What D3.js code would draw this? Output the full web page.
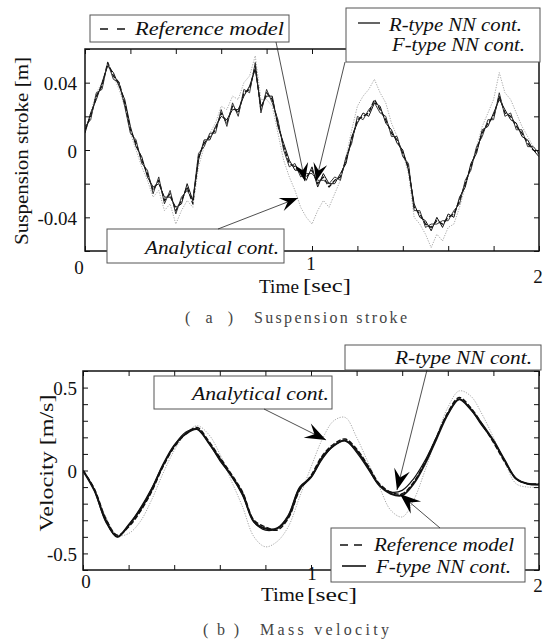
<!DOCTYPE html>
<html><head><meta charset="utf-8">
<script src="https://cdn.jsdelivr.net/npm/d3@7"></script>
<style>body{margin:0;background:#fff}svg{display:block}</style>
</head><body>
<svg id="c" width="544" height="643"></svg>
<script>
// ---------- DATA ----------
// (a) Suspension stroke [m], sampled every 0.025 s from 0 to 2 s
const timeTop = d3.range(81).map(i => i * 0.025);
const refTop = [
  0.012, 0.020, 0.032, 0.038, 0.052, 0.044, 0.040, 0.028, 0.012, 0.004,
  -0.006, -0.014, -0.024, -0.018, -0.030, -0.026, -0.036, -0.030, -0.022, -0.032,
  -0.004, 0.004, 0.008, 0.012, 0.022, 0.016, 0.026, 0.022, 0.034, 0.036,
  0.050, 0.024, 0.034, 0.030, 0.016, 0.002, -0.008, -0.010, -0.014, -0.016,
  -0.012, -0.020, -0.016, -0.022, -0.018, -0.016, -0.006, 0.006, 0.018, 0.020,
  0.022, 0.030, 0.024, 0.018, 0.010, 0.006, -0.002, -0.010, -0.034, -0.038,
  -0.044, -0.046, -0.042, -0.044, -0.040, -0.038, -0.030, -0.020, -0.010, 0.000,
  0.010, 0.016, 0.020, 0.032, 0.022, 0.020, 0.014, 0.010, 0.004, 0.000,
  -0.002];
const rTop = [
  0.010, 0.022, 0.030, 0.040, 0.050, 0.046, 0.038, 0.030, 0.014, 0.002,
  -0.004, -0.016, -0.022, -0.020, -0.028, -0.028, -0.034, -0.032, -0.020, -0.030,
  -0.006, 0.006, 0.006, 0.014, 0.020, 0.018, 0.024, 0.024, 0.032, 0.038,
  0.048, 0.026, 0.032, 0.032, 0.014, 0.004, -0.006, -0.012, -0.012, -0.018,
  -0.010, -0.022, -0.014, -0.020, -0.020, -0.014, -0.008, 0.008, 0.016, 0.022,
  0.020, 0.028, 0.026, 0.016, 0.012, 0.004, 0.000, -0.012, -0.032, -0.040,
  -0.042, -0.048, -0.040, -0.046, -0.038, -0.040, -0.028, -0.022, -0.008, -0.002,
  0.012, 0.014, 0.022, 0.030, 0.024, 0.018, 0.016, 0.008, 0.006, 0.000,
  -0.004];
const fTop = [
  0.014, 0.018, 0.034, 0.036, 0.052, 0.042, 0.040, 0.026, 0.010, 0.006,
  -0.008, -0.012, -0.026, -0.016, -0.032, -0.024, -0.038, -0.028, -0.024, -0.030,
  -0.002, 0.002, 0.010, 0.010, 0.024, 0.014, 0.028, 0.020, 0.036, 0.034,
  0.052, 0.022, 0.036, 0.028, 0.018, 0.000, -0.010, -0.008, -0.016, -0.014,
  -0.014, -0.018, -0.018, -0.020, -0.016, -0.018, -0.004, 0.004, 0.020, 0.018,
  0.024, 0.028, 0.022, 0.020, 0.008, 0.008, -0.004, -0.008, -0.036, -0.036,
  -0.046, -0.044, -0.044, -0.042, -0.042, -0.036, -0.032, -0.018, -0.012, 0.002,
  0.008, 0.018, 0.018, 0.034, 0.020, 0.022, 0.012, 0.012, 0.002, 0.002,
  -0.002];
const anaTop = [
  0.012, 0.022, 0.034, 0.040, 0.050, 0.044, 0.036, 0.026, 0.010, 0.000,
  -0.010, -0.018, -0.028, -0.024, -0.036, -0.032, -0.044, -0.036, -0.030, -0.034,
  -0.010, 0.002, 0.010, 0.016, 0.026, 0.024, 0.032, 0.030, 0.040, 0.044,
  0.056, 0.030, 0.030, 0.026, 0.010, -0.006, -0.016, -0.024, -0.034, -0.040,
  -0.044, -0.036, -0.030, -0.034, -0.026, -0.018, -0.004, 0.012, 0.026, 0.032,
  0.036, 0.042, 0.034, 0.028, 0.016, 0.008, -0.002, -0.014, -0.040, -0.044,
  -0.050, -0.058, -0.050, -0.054, -0.046, -0.044, -0.034, -0.022, -0.010, 0.002,
  0.014, 0.022, 0.030, 0.046, 0.034, 0.030, 0.022, 0.014, 0.008, 0.002,
  -0.002];

// (b) Mass velocity [m/s], sampled every 0.05 s from 0 to 2 s
const timeBot = d3.range(41).map(i => i * 0.05);
const refBot = [
  0.00, -0.11, -0.29, -0.39, -0.34, -0.25, -0.13, 0.02, 0.14, 0.22,
  0.26, 0.18, 0.08, -0.02, -0.13, -0.30, -0.34, -0.36, -0.29, -0.12,
  -0.03, 0.09, 0.16, 0.19, 0.13, 0.03, -0.08, -0.13, -0.14, -0.07,
  0.05, 0.20, 0.35, 0.44, 0.38, 0.28, 0.17, 0.05, -0.05, -0.08,
  -0.08];
const fBot = [
  0.00, -0.12, -0.30, -0.40, -0.33, -0.24, -0.12, 0.03, 0.15, 0.22,
  0.25, 0.17, 0.07, -0.03, -0.14, -0.31, -0.35, -0.35, -0.28, -0.11,
  -0.04, 0.08, 0.15, 0.18, 0.12, 0.02, -0.09, -0.14, -0.15, -0.08,
  0.04, 0.19, 0.34, 0.43, 0.37, 0.28, 0.18, 0.06, -0.05, -0.08,
  -0.085];
const rBot = [
  0.00, -0.12, -0.31, -0.40, -0.33, -0.23, -0.11, 0.03, 0.15, 0.23,
  0.25, 0.17, 0.06, -0.03, -0.15, -0.31, -0.36, -0.35, -0.27, -0.10,
  -0.04, 0.07, 0.15, 0.18, 0.11, 0.01, -0.09, -0.13, -0.12, -0.05,
  0.06, 0.20, 0.34, 0.43, 0.37, 0.27, 0.18, 0.06, -0.05, -0.08,
  -0.085];
const anaBot = [
  0.00, -0.12, -0.28, -0.39, -0.38, -0.31, -0.18, -0.02, 0.12, 0.22,
  0.27, 0.22, 0.10, -0.06, -0.22, -0.40, -0.46, -0.43, -0.34, -0.16,
  0.02, 0.19, 0.30, 0.32, 0.20, 0.05, -0.10, -0.24, -0.28, -0.18,
  0.00, 0.20, 0.38, 0.48, 0.45, 0.34, 0.20, 0.05, -0.08, -0.10,
  -0.10];

// tick values / labels
const xTickVals = [0, 0.2, 0.4, 0.6, 0.8, 1.0, 1.2, 1.4, 1.6, 1.8, 2.0];
const xLabels = ["0", "1", "2"];
const yTickValsTop = [-0.06, -0.04, -0.02, 0, 0.02, 0.04, 0.06];
const yLabelsTop = ["-0.04", "0", "0.04"];
const yTickValsBot = [-0.6, -0.5, -0.4, -0.3, -0.2, -0.1, 0, 0.1, 0.2, 0.3, 0.4, 0.5, 0.6];
const yLabelsBot = ["-0.5", "0", "0.5"];

// ---------- DRAWING ----------
const svg = d3.select("#c");
const SERIF = "'Liberation Serif','Times New Roman',serif";
const defs = svg.append("defs");

function marker(id, L, W, notch) {
  defs.append("marker").attr("id", id)
    .attr("viewBox", `${-L - 1} ${-W - 1} ${L + 2} ${2 * W + 2}`)
    .attr("refX", 0).attr("refY", 0)
    .attr("markerWidth", L + 2).attr("markerHeight", 2 * W + 2)
    .attr("markerUnits", "userSpaceOnUse").attr("orient", "auto")
    .append("path").attr("d", `M0,0 L${-L},${-W} L${-L + notch},0 L${-L},${W} Z`).attr("fill", "#000");
}
marker("ahS", 18, 7, 7);
marker("ahL", 21, 8, 8);

function txt(x, y, s, o = {}) {
  const t = svg.append("text").attr("x", x).attr("y", y).text(s)
    .attr("font-family", SERIF).attr("font-size", o.size || 18)
    .attr("fill", o.fill || "#111");
  if (o.italic) t.attr("font-style", "italic");
  if (o.anchor) t.attr("text-anchor", o.anchor);
  if (o.len) t.attr("textLength", o.len).attr("lengthAdjust", o.adj || "spacingAndGlyphs");
  if (o.rot) t.attr("transform", `rotate(-90,${x},${y})`);
  if (o.base) t.attr("dominant-baseline", o.base);
  return t;
}

function panel(cfg) {
  const { x, y, id } = cfg;
  const [x0, x1] = x.range(), [y0, y1] = y.range();
  const g = svg.append("g");
  defs.append("clipPath").attr("id", id).append("rect")
    .attr("x", x0).attr("y", y1).attr("width", x1 - x0).attr("height", y0 - y1);
  const lg = g.append("g").attr("clip-path", `url(#${id})`);
  cfg.series.forEach(s => {
    const line = d3.line().x((d, i) => x(cfg.time[i])).y(d => y(d)).curve(cfg.curve);
    lg.append("path").datum(s.data).attr("d", line).attr("fill", "none")
      .attr("stroke", s.color).attr("stroke-width", s.width)
      .attr("stroke-dasharray", s.dash || null).attr("stroke-linejoin", "round");
  });
  const noDom = s => s.select(".domain").remove();
  const tk = s => s.selectAll(".tick line").attr("stroke", "#111").attr("stroke-width", 1);
  g.append("g").attr("transform", `translate(0,${y0})`)
    .call(d3.axisBottom(x).tickValues(xTickVals).tickSize(-5).tickFormat("")).call(noDom).call(tk);
  g.append("g").attr("transform", `translate(0,${y1})`)
    .call(d3.axisTop(x).tickValues(xTickVals).tickSize(-5).tickFormat("")).call(noDom).call(tk);
  g.append("g").attr("transform", `translate(${x0},0)`)
    .call(d3.axisLeft(y).tickValues(cfg.yTicks).tickSize(-5).tickFormat("")).call(noDom).call(tk);
  g.append("g").attr("transform", `translate(${x1},0)`)
    .call(d3.axisRight(y).tickValues(cfg.yTicks).tickSize(-5).tickFormat("")).call(noDom).call(tk);
  g.append("rect").attr("x", x0).attr("y", y1).attr("width", x1 - x0).attr("height", y0 - y1)
    .attr("fill", "none").attr("stroke", "#111").attr("stroke-width", 1.5);
  cfg.yLabels.forEach(l => txt(cfg.yLabX, y(+l) + 1, l, { anchor: "end", base: "central", size: 19 }));
  xLabels.forEach((l, i) => txt(x(+l) + cfg.xLabOff[i][0], cfg.xLabOff[i][1], l, { anchor: "middle", size: 19 }));
}

// ---- (a) ----
const xA = d3.scaleLinear().domain([0, 2]).range([85, 539]);
const yA = d3.scaleLinear().domain([-0.06, 0.06]).range([251, 49]);
panel({
  id: "clipA", x: xA, y: yA, time: timeTop, curve: d3.curveLinear,
  yTicks: yTickValsTop, yLabels: yLabelsTop, yLabX: 77,
  xLabOff: [[-6, 274], [-1, 270], [-1, 283]],
  series: [
    { data: anaTop, color: "#a8a8a8", width: 1, dash: "1.2,1.4" },
    { data: refTop, color: "#111", width: 1.3, dash: "5,2" },
    { data: rTop, color: "#111", width: 1 },
    { data: fTop, color: "#222", width: 0.9 }
  ]
});
txt(22, 151, "Suspension stroke [m]", { rot: true, anchor: "middle", size: 18, len: 188, base: "central" });
txt(259, 293, "Time", { size: 18, len: 40 });
txt(303, 292, "[sec]", { size: 18, len: 48 });
txt(185, 323, "( a )", { size: 16, len: 48, fill: "#444", adj: "spacing" });
txt(254, 323, "Suspension stroke", { size: 16, len: 153, fill: "#444", adj: "spacing" });

function box(x, y, w, h) {
  svg.append("rect").attr("x", x).attr("y", y).attr("width", w).attr("height", h)
    .attr("fill", "#fff").attr("stroke", "#555").attr("stroke-width", 1);
}
function seg(x1, x2, y, dash, w) {
  svg.append("line").attr("x1", x1).attr("x2", x2).attr("y1", y).attr("y2", y)
    .attr("stroke", "#111").attr("stroke-width", w || 1.3).attr("stroke-dasharray", dash || null);
}
box(90, 15, 199, 27);
seg(100, 125, 29, "8,9");
txt(135, 35, "Reference model", { italic: true, size: 19, len: 149 });
box(346, 8, 194, 54);
seg(358, 380, 23);
txt(389, 31, "R-type NN cont.", { italic: true, size: 19, len: 133 });
txt(392, 51, "F-type NN cont.", { italic: true, size: 19, len: 133 });
box(107, 229, 177, 34);
txt(145, 254, "Analytical cont.", { italic: true, size: 19, len: 134 });

const arrowTipsTop = [
  { from: [276, 42], tip: [0.969, -0.0185] },   // Reference model
  { from: [345, 62], tip: [1.018, -0.0185] },   // R-type / F-type NN
  { from: [218, 229], tip: [0.938, -0.0285] }   // Analytical
];
arrowTipsTop.forEach(a => {
  svg.append("line").attr("x1", a.from[0]).attr("y1", a.from[1])
    .attr("x2", xA(a.tip[0])).attr("y2", yA(a.tip[1]))
    .attr("stroke", "#222").attr("stroke-width", 0.8).attr("marker-end", "url(#ahS)");
});

// ---- (b) ----
const xB = d3.scaleLinear().domain([0, 2]).range([83, 539]);
const yB = d3.scaleLinear().domain([-0.6, 0.6]).range([570, 371]);
panel({
  id: "clipB", x: xB, y: yB, time: timeBot, curve: d3.curveCatmullRom,
  yTicks: yTickValsBot, yLabels: yLabelsBot, yLabX: 77,
  xLabOff: [[3, 588], [1, 580], [-1, 592]],
  series: [
    { data: anaBot, color: "#a8a8a8", width: 1, dash: "1.2,1.4" },
    { data: refBot, color: "#111", width: 1.4, dash: "5,2" },
    { data: rBot, color: "#111", width: 1.2 },
    { data: fBot, color: "#111", width: 2 }
  ]
});
txt(47, 463, "Velocity [m/s]", { rot: true, anchor: "middle", size: 18, len: 137, base: "central" });
txt(261, 601, "Time", { size: 18, len: 43 });
txt(307, 601, "[sec]", { size: 18, len: 50 });
txt(203, 635, "( b )", { size: 16, len: 36, fill: "#444", adj: "spacing" });
txt(260, 635, "Mass velocity", { size: 16, len: 129, fill: "#444", adj: "spacing" });

box(154, 376, 178, 33);
txt(192, 400, "Analytical cont.", { italic: true, size: 19, len: 137 });
box(345, 345, 196, 25);
txt(395, 364, "R-type NN cont.", { italic: true, size: 19, len: 137 });
box(331, 528, 194, 54);
seg(340, 362, 545, "8,6");
txt(374, 551, "Reference model", { italic: true, size: 19, len: 140 });
seg(342, 366, 566, null, 1.6);
txt(376, 573, "F-type NN cont.", { italic: true, size: 19, len: 135 });

const arrowTipsBot = [
  { from: [264, 409], tip: [1.066, 0.184] },   // Analytical
  { from: [427, 370], tip: [1.377, -0.118] },  // R-type NN
  { from: [440, 528], tip: [1.390, -0.142] }   // F-type NN
];
arrowTipsBot.forEach(a => {
  svg.append("line").attr("x1", a.from[0]).attr("y1", a.from[1])
    .attr("x2", xB(a.tip[0])).attr("y2", yB(a.tip[1]))
    .attr("stroke", "#222").attr("stroke-width", 0.8).attr("marker-end", "url(#ahL)");
});
</script>
</body></html>
